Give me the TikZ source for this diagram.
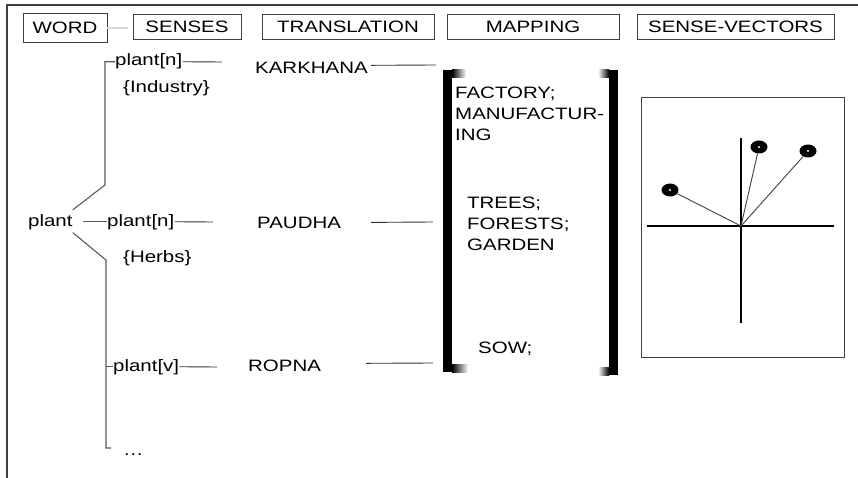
\documentclass[tikz,border=0pt]{standalone}
\usepackage{fontspec}
\setmainfont{Liberation Sans}[FakeStretch=1.24]
\usetikzlibrary{shapes.geometric}

\begin{document}
\begin{tikzpicture}[x=1pt, y=-1pt,
    font=\fontsize{16.5}{21}\selectfont,
    head/.style={draw=black!75, line width=0.9pt, inner sep=0pt, minimum height=25pt},
    txt/.style={inner sep=0pt, anchor=base west},
    conn/.style={draw=black!80, line width=0.9pt},
    tree/.style={draw=black!65, line width=1.1pt},
    vec/.style={draw=black!75, line width=0.9pt},
    vdot/.style={ellipse, fill=black, inner sep=0pt, minimum width=17pt, minimum height=13pt}]
    \useasboundingbox (0,0) rectangle (858,478);

    % 枠
    \draw[black!75, line width=1.2pt] (858,5) -- (7,5) -- (7,478);

    % 見出し
    \node[head, minimum width=84pt, minimum height=29pt] (word) at (65, 28) {WORD};
    \node[head, minimum width=108pt] (senses) at (187, 26.5) {SENSES};
    \node[head, minimum width=172pt] (transl) at (348, 26.5) {TRANSLATION};
    \node[head, minimum width=172pt] (mapping) at (533, 26.5) {MAPPING};
    \node[head, minimum width=197pt] (vectors) at (735.5, 26.5) {SENSE-VECTORS};
    \coordinate (wend) at (128, 28);
    \draw[black!15, line width=2pt] (word.east) -- (wend);

    % 語と語義
    \node[txt] (plant) at (28, 226) {plant};
    \node[txt] (sn1) at (115, 66) {plant[n]};
    \node[txt] (ind) at (123, 93) {\{Industry\}};
    \node[txt] (sn2) at (107, 226) {plant[n]};
    \node[txt] (herb) at (123, 262) {\{Herbs\}};
    \node[txt] (sv) at (113, 371) {plant[v]};
    \node[txt] (more) at (123, 455) {\dots};

    % 木構造
    \coordinate (b1) at (105, 185);
    \coordinate (b2) at (106, 260);
    \coordinate (b3) at (106, 448);
    \coordinate (b4) at (111, 448);
    \draw[tree] ([xshift=10pt]plant.east) -- (sn2.west);
    \draw[tree] ([yshift=4pt]plant.north east) -- (b1) |- (sn1.west);
    \draw[tree] ([yshift=-3pt]plant.south east) -- (b2) -- (b3) -- (b4);
    \draw[tree] (b2 |- sv.west) -- (sv.west);

    % 語義から訳語へ
    \coordinate (e1) at (222, 62);
    \coordinate (e2) at (213, 222);
    \coordinate (e3) at (217, 367);
    \draw[conn] (sn1.east) -- (e1);
    \draw[conn] (sn2.east) -- (e2);
    \draw[conn] (sv.east) -- (e3);

    % 訳語
    \node[txt] (tk) at (255, 74) {KARKHANA};
    \node[txt] (tp) at (257, 228) {PAUDHA};
    \node[txt] (tr) at (248, 371) {ROPNA};
    \coordinate (m1) at (436, 65);
    \coordinate (m2) at (433, 222);
    \coordinate (m3) at (433, 363);
    \draw[conn] ([xshift=3pt, yshift=3pt]tk.east) -- (m1);
    \draw[conn] ([xshift=30pt]tp.east) -- (m2);
    \draw[conn] ([xshift=45pt, yshift=2pt]tr.east) -- (m3);

    % 対応（括弧）
    \fill[black] (443,70) rectangle (452,372);
    \shade[left color=black, right color=white] (452,70) rectangle (466,78);
    \shade[left color=black, right color=white] (452,364) rectangle (468,372);
    \fill[black] (609,70) rectangle (618,375);
    \shade[left color=white, right color=black] (598,70) rectangle (609,78);
    \shade[left color=white, right color=black] (598,367) rectangle (609,375);
    \node[txt, anchor=north west, align=left] (mp1) at (455, 87) {FACTORY;\\MANUFACTUR-\\ING};
    \node[txt, anchor=north west, align=left] (mp2) at (467, 197) {TREES;\\FORESTS;\\GARDEN};
    \node[txt] (mp3) at (478, 353) {SOW;};

    % 語義ベクトル
    \node[draw=black!75, line width=0.9pt, inner sep=0pt, minimum width=203pt, minimum height=260pt] (panel) at (742.5, 227) {};
    \coordinate (o) at (741, 226);
    \draw[black, line width=1.6pt] (647,226) -- (834,226);
    \draw[black, line width=1.6pt] (741,138) -- (741,323);
    \node[vdot] (v1) at (670, 190) {};
    \node[vdot] (v2) at (759, 147) {};
    \node[vdot] (v3) at (808, 151) {};
    \draw[vec] (o) -- (v1);
    \draw[vec] (o) -- (v2);
    \draw[vec] (o) -- (v3);
    \fill[white] (v1) circle (1.2pt);
    \fill[white] (v2) circle (1.2pt);
    \fill[white] (v3) circle (1.2pt);
\end{tikzpicture}
\end{document}
